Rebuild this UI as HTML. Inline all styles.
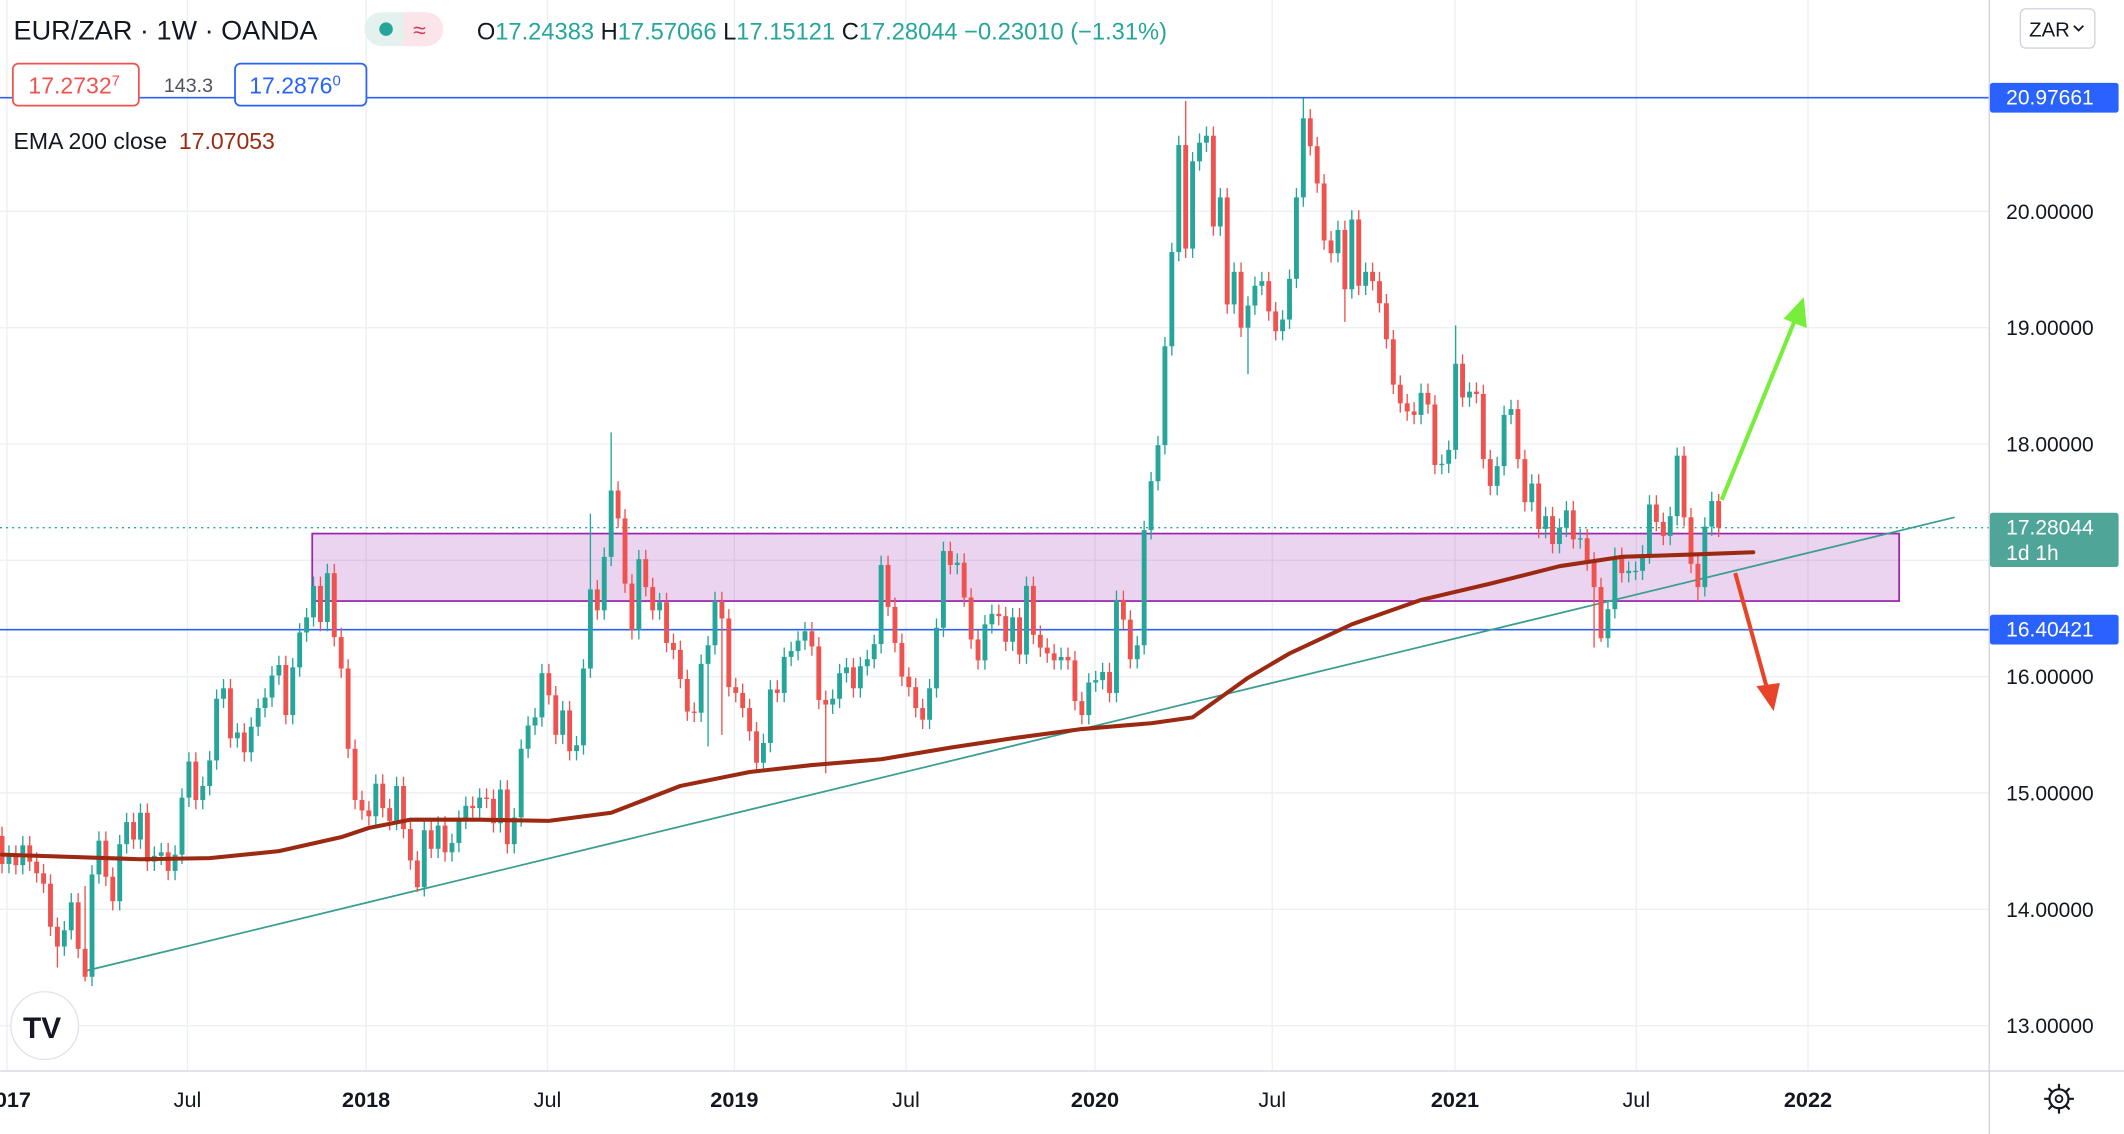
<!DOCTYPE html>
<html><head><meta charset="utf-8"><style>
html,body{margin:0;padding:0;background:#fff;overflow:hidden}
svg{display:block}
text{font-family:"Liberation Sans",sans-serif}
</style></head><body>
<svg id="chart" width="2124" height="1134" viewBox="0 0 1568 837" preserveAspectRatio="none" xmlns="http://www.w3.org/2000/svg">
<rect x="0" y="0" width="1568" height="837" fill="#ffffff"/>
<g id="grid"></g>
<g id="overlays"></g>
<g id="candles"></g>
<g id="ema"></g>
<g id="drawings2"></g>
<g id="axes"></g>
<g id="header">
  <text x="10" y="29" font-size="20" fill="#131722">EUR/ZAR · 1W · OANDA</text>
  <g>
    <rect x="269" y="9" width="58" height="25" rx="12.5" fill="#e4f1ef"/>
    <path d="M298 9 h16.5 a12.5 12.5 0 0 1 0 25 h-16.5 z" fill="#fbe4ea"/>
    <circle cx="285" cy="21.5" r="5" fill="#26a69a"/>
    <text x="305" y="28" font-size="17" fill="#d13c5c">≈</text>
  </g>
  <text x="352" y="29" font-size="17.5" fill="#26a69a"><tspan fill="#131722">O</tspan>17.24383 <tspan fill="#131722">H</tspan>17.57066 <tspan fill="#131722">L</tspan>17.15121 <tspan fill="#131722">C</tspan>17.28044 −0.23010 (−1.31%)</text>
  <g>
    <rect x="9.5" y="47" width="93" height="31" rx="4" fill="#fff" stroke="#ef5350" stroke-width="1.3"/>
    <text x="21" y="69" font-size="17" fill="#ef5350">17.2732<tspan font-size="11" dy="-6">7</tspan></text>
  </g>
  <text x="121" y="68" font-size="14.5" fill="#50535e">143.3</text>
  <g>
    <rect x="173.5" y="47" width="97" height="31" rx="4" fill="#fff" stroke="#2962ff" stroke-width="1.3"/>
    <text x="184" y="69" font-size="17" fill="#2962ff">17.2876<tspan font-size="11" dy="-6">0</tspan></text>
  </g>
  <text x="10" y="110" font-size="17" fill="#131722">EMA 200 close <tspan fill="#9c2a12" dx="4">17.07053</tspan></text>
</g>
<g>
  <rect x="1491.5" y="6.5" width="55" height="29" rx="4" fill="#fff" stroke="#d1d4dc"/>
  <text x="1498" y="27" font-size="15" fill="#131722">ZAR</text>
  <path d="M1531 19 l3.5 3.5 l3.5 -3.5" fill="none" stroke="#131722" stroke-width="1.3"/>
</g>
<g>
  <circle cx="33" cy="757" r="25" fill="#fff" stroke="#e0e3eb"/>
  <text x="17" y="766" font-size="22" font-weight="bold" fill="#131722">TV</text>
</g>
<g>
  <circle cx="1520" cy="811" r="7" fill="none" stroke="#131722" stroke-width="1.6"/>
  <circle cx="1520" cy="811" r="2.5" fill="none" stroke="#131722" stroke-width="1.4"/>
  <path d="M1520 800v4M1520 818v4M1509 811h4M1527 811h4M1512.2 803.2l2.8 2.8M1525 816l2.8 2.8M1512.2 818.8l2.8-2.8M1525 806l2.8-2.8" stroke="#131722" stroke-width="1.6"/>
</g>
</svg>
<script>
// ---- data ----
const closes = [
14.39,14.47,14.38,14.55,14.41,14.31,14.22,13.85,13.68,13.82,14.06,13.66,13.42,14.30,14.59,14.28,14.07,14.56,14.75,14.60,
14.83,14.41,14.46,14.49,14.33,14.47,14.96,15.27,14.94,15.06,15.28,15.81,15.90,15.47,15.52,15.35,15.57,15.73,15.82,16.01,
16.10,15.67,16.08,16.38,16.51,16.78,16.47,16.89,16.34,16.07,15.38,14.94,14.85,14.80,15.08,14.87,14.76,15.06,14.69,14.42,
14.19,14.68,14.52,14.72,14.49,14.57,14.77,14.89,14.87,14.96,14.95,14.74,15.03,14.56,14.79,15.38,15.58,15.65,16.03,15.84,
15.50,15.71,15.36,15.41,16.07,16.75,16.57,
17.03,17.60,17.36,16.80,16.40,17.01,16.77,16.57,16.64,16.29,16.23,15.98,15.70,15.69,16.11,16.27,16.65,16.50,15.91,15.86,
15.73,15.53,15.26,15.43,15.89,15.86,16.17,16.22,16.31,16.39,16.26,15.80,15.76,15.81,16.03,16.08,15.90,16.09,16.15,16.28,
16.96,16.60,16.29,16.00,15.91,15.73,15.63,15.90,16.42,17.08,16.96,16.98,16.68,16.32,16.14,16.45,16.54,16.52,16.30,16.51,
16.19,16.78,16.36,16.25,16.20,16.14,16.17,16.14,15.79,15.67,15.95,15.97,16.04,15.86,16.66,16.49,16.15,16.27,17.26,17.68,
17.99,
18.84,19.65,20.57,19.68,20.43,20.59,20.65,19.87,20.12,19.20,19.48,19.00,19.19,19.36,19.40,19.14,18.97,19.07,19.42,20.12,
20.80,20.56,20.24,19.75,19.64,19.84,19.33,19.93,19.36,19.48,19.40,19.21,18.90,18.51,18.35,18.28,18.25,18.44,18.34,17.82,
17.83,17.95,18.69,18.40,18.45,18.43,17.87,17.64,17.81,18.25,18.30,17.87,17.50,17.66,17.27,17.38,17.14,17.28,17.43,17.18,
17.19,16.99,16.77,16.33,16.58,17.03,16.89,16.91,16.91,17.05,17.48,17.33,17.21,17.38,17.90,17.37,16.97,16.77,17.29,17.51,
17.28];
const firstOpen = 14.63;
const highIdx = [12, 85, 88, 171, 188, 210, 242, 248];
const highVal = [14.20, 17.40, 18.10, 20.95, 20.97, 19.02, 17.97, 17.57];
const lowIdx  = [12, 8, 60, 102, 104, 119, 180, 194, 230, 231, 245];
const lowVal  = [13.38, 13.50, 14.15, 15.40, 15.50, 15.17, 18.60, 19.05, 16.25, 16.30, 16.65];
const emaWeek = [0, 20, 30, 40, 49, 53, 59, 69, 79, 88, 98, 108, 117, 127, 137, 146, 156, 166, 172, 176, 180, 186, 195, 205, 215, 225, 234, 244, 253];
const emaVal  = [14.47, 14.43, 14.44, 14.50, 14.62, 14.70, 14.77, 14.77, 14.76, 14.83, 15.06, 15.18, 15.24, 15.29, 15.39, 15.47, 15.55, 15.60, 15.65, 15.82, 15.99, 16.20, 16.45, 16.66, 16.80, 16.95, 17.03, 17.05, 17.07];
const priceTicks = [20, 19, 18, 17, 16, 15, 14, 13];
const timeLabels = ["2017", "Jul", "2018", "Jul", "2019", "Jul", "2020", "Jul", "2021", "Jul", "2022"];
const timeWeeks  = [0.7, 26.8, 52.6, 78.8, 105.8, 130.6, 157.9, 183.5, 209.9, 236.1, 260.9];
const levelHigh = 20.97661, levelLow = 16.40421, lastPrice = 17.28044;
const zoneTop = 17.23, zoneBottom = 16.65;

// ---- axis functions ----
const X0 = 1.5, W = 5.11;
const PLOT_R = 1468, PLOT_B = 790;
function xOf(i){ return X0 + i*W; }
function yOf(p){ return 156 + (20 - p)*85.86; }
const NS = "http://www.w3.org/2000/svg";
function mk(tag, attrs, parent){ const e=document.createElementNS(NS,tag); for(const k in attrs) e.setAttribute(k,attrs[k]); parent.appendChild(e); return e; }

// grid
const grid = document.getElementById('grid');
priceTicks.forEach(p=>{
  const l = mk('line',{x1:0,x2:PLOT_R,y1:yOf(p),y2:yOf(p),stroke:'#eceff3','stroke-width':1},grid);
  
  
});
timeWeeks.forEach(w=>{
  const l = mk('line',{x1:xOf(w),x2:xOf(w),y1:0,y2:PLOT_B,stroke:'#eceff3','stroke-width':1},grid);
  
  
});

// overlays
const ov = document.getElementById('overlays');
const zone = mk('rect',{x:230.5,y:yOf(zoneTop),width:1171.5,height:yOf(zoneBottom)-yOf(zoneTop),fill:'rgba(156,39,176,0.2)',stroke:'#9c27b0','stroke-width':1.3},ov);


const lh = mk('line',{x1:0,x2:PLOT_R,y1:yOf(levelHigh),y2:yOf(levelHigh),stroke:'#2962ff','stroke-width':1.2},ov);


const ll = mk('line',{x1:0,x2:PLOT_R,y1:yOf(levelLow),y2:yOf(levelLow),stroke:'#2962ff','stroke-width':1.2},ov);


const lp = mk('line',{x1:0,x2:PLOT_R,y1:yOf(lastPrice),y2:yOf(lastPrice),stroke:'#26a69a','stroke-width':1,'stroke-dasharray':'1.5 3'},ov);


const tl = mk('line',{x1:xOf(12),y1:yOf(13.47),x2:1443,y2:yOf(17.37),stroke:'#3a9e90','stroke-width':1.3},ov);



// candles
const cg = document.getElementById('candles');
let prev = firstOpen;
closes.forEach((c,i)=>{
  const o = prev; prev = c;
  let hi = Math.max(o,c)+0.08, lo = Math.min(o,c)-0.08;
  const hk = highIdx.indexOf(i); if(hk>=0) hi = Math.max(highVal[hk], Math.max(o,c));
  const lk = lowIdx.indexOf(i); if(lk>=0) lo = Math.min(lowVal[lk], Math.min(o,c));
  const up = c >= o; const col = up ? '#26a69a' : '#ef5350';
  const x = xOf(i);
  const g = mk('g',{},cg);
  
  
  mk('line',{x1:x,x2:x,y1:yOf(hi),y2:yOf(lo),stroke:col,'stroke-width':1},g);
  const yt = yOf(Math.max(o,c)), yb = yOf(Math.min(o,c));
  mk('rect',{x:x-1.8,y:yt,width:3.6,height:Math.max(1,yb-yt),fill:col},g);
});

// EMA
const eg = document.getElementById('ema');
const pts = emaWeek.map((w,k)=>xOf(w).toFixed(1)+','+yOf(emaVal[k]).toFixed(1)).join(' ');
const ep = mk('polyline',{points:pts,fill:'none',stroke:'#9c2a12','stroke-width':3,'stroke-linejoin':'round','stroke-linecap':'round'},eg);



// arrows
const ag = document.getElementById('drawings2');
const ga = mk('g',{},ag);


mk('line',{x1:1271,y1:369,x2:1326,y2:234,stroke:'#76ee3a','stroke-width':3},ga);
mk('path',{d:'M1331 221 L1333 241 L1318 235 Z',fill:'#76ee3a',stroke:'#76ee3a','stroke-width':1.5},ga);
const ra = mk('g',{},ag);


mk('line',{x1:1281,y1:423,x2:1305,y2:510,stroke:'#e8442a','stroke-width':3},ra);
mk('path',{d:'M1309 523 L1298 507 L1313 505 Z',fill:'#e8442a',stroke:'#e8442a','stroke-width':1.5},ra);

// axes
const ax = document.getElementById('axes');
mk('rect',{x:PLOT_R,y:0,width:1568-PLOT_R,height:837,fill:'#fff'},ax);
mk('rect',{x:0,y:PLOT_B,width:1568,height:837-PLOT_B,fill:'#fff'},ax);
mk('line',{x1:PLOT_R+0.5,x2:PLOT_R+0.5,y1:0,y2:837,stroke:'#d1d4dc','stroke-width':1},ax);
mk('line',{x1:0,x2:1568,y1:PLOT_B+0.5,y2:PLOT_B+0.5,stroke:'#d1d4dc','stroke-width':1},ax);
priceTicks.forEach(p=>{
  if (Math.abs(yOf(p)-yOf(lastPrice)) < 32 || Math.abs(yOf(p)-yOf(levelLow)) < 14) return;
  const t = mk('text',{x:1481,y:yOf(p)+5.5,'font-size':15.5,fill:'#131722'},ax);
  t.textContent = p.toFixed(5);
  
  
});
timeLabels.forEach((s,k)=>{
  const yr = /^\d/.test(s);
  const t = mk('text',{x:xOf(timeWeeks[k]),y:817,'font-size':16,'text-anchor':'middle',fill:'#131722','font-weight':yr?'bold':'normal'},ax);
  t.textContent = s;
  
  
});
function badge(name, p, fill, lines){
  const g = mk('g',{},ax);
  
  
  const h = lines.length>1 ? 40 : 22;
  const y = yOf(p) - 11;
  mk('rect',{x:PLOT_R+1,y:y,width:95,height:h,rx:2,fill:fill},g);
  lines.forEach((s,k)=>{ const t=mk('text',{x:1481,y:y+16+k*19,'font-size':15.5,fill:'#fff'},g); t.textContent=s; });
}
badge('resistance-price-badge', levelHigh, '#2962ff', [levelHigh.toFixed(5)]);
badge('last-price-badge', lastPrice, '#4fa597', [lastPrice.toFixed(5), '1d 1h']);
badge('support-price-badge', levelLow, '#2962ff', [levelLow.toFixed(5)]);
</script>
</body></html>
